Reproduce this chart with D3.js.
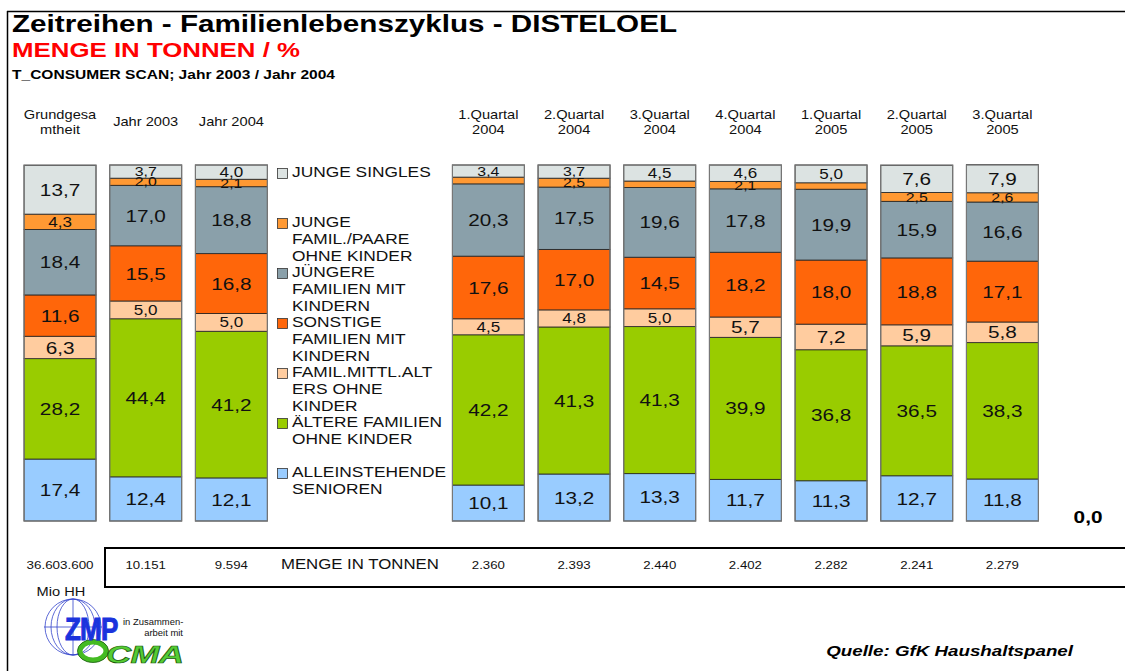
<!DOCTYPE html>
<html>
<head>
<meta charset="utf-8">
<script src="https://cdn.jsdelivr.net/npm/d3@7"></script>
<style>
  body { margin: 0; background: #fff; }
  svg { font-family: "Liberation Sans", Arial, sans-serif; }
</style>
</head>
<body>
<div id="chart"></div>
<script>
// slots of the category axis; empty ones hold the legend, last one is the empty "0,0" column
var categories = ["Grundgesa|mtheit", "Jahr 2003", "Jahr 2004", "", "",
    "1.Quartal|2004", "2.Quartal|2004", "3.Quartal|2004", "4.Quartal|2004",
    "1.Quartal|2005", "2.Quartal|2005", "3.Quartal|2005", ""];

var seriesNames = ["ALLEINSTEHENDE|SENIOREN", "ÄLTERE FAMILIEN|OHNE KINDER",
    "FAMIL.MITTL.ALT|ERS OHNE|KINDER", "SONSTIGE|FAMILIEN MIT|KINDERN",
    "JÜNGERE|FAMILIEN MIT|KINDERN", "JUNGE|FAMIL./PAARE|OHNE KINDER", "JUNGE SINGLES"];
var seriesColors = ["#99ccff", "#99cc00", "#ffcc9f", "#ff660a", "#8aa0aa", "#ff9933", "#dce3e2"];

var alleinstehende = [17.4, 12.4, 12.1, null, null, 10.1, 13.2, 13.3, 11.7, 11.3, 12.7, 11.8, 0];
var aeltere        = [28.2, 44.4, 41.2, null, null, 42.2, 41.3, 41.3, 39.9, 36.8, 36.5, 38.3, 0];
var mittlAlters    = [6.3, 5.0, 5.0, null, null, 4.5, 4.8, 5.0, 5.7, 7.2, 5.9, 5.8, 0];
var sonstige       = [11.6, 15.5, 16.8, null, null, 17.6, 17.0, 14.5, 18.2, 18.0, 18.8, 17.1, 0];
var juengere       = [18.4, 17.0, 18.8, null, null, 20.3, 17.5, 19.6, 17.8, 19.9, 15.9, 16.6, 0];
var jungePaare     = [4.3, 2.0, 2.1, null, null, 1.9, 2.5, 1.8, 2.1, 1.8, 2.5, 2.6, 0];
var jungeSingles   = [13.7, 3.7, 4.0, null, null, 3.4, 3.7, 4.5, 4.6, 5.0, 7.6, 7.9, 0];

var mengeTonnen = ["36.603.600", "10.151", "9.594", "", "", "2.360", "2.393", "2.440",
    "2.402", "2.282", "2.241", "2.279", ""];

var seriesValues = [alleinstehende, aeltere, mittlAlters, sonstige, juengere, jungePaare, jungeSingles];

var W = 1125, H = 671;
var SX = 1.22; // the original export is stretched sideways
var svg = d3.select("#chart").append("svg").attr("width", W).attr("height", H);

// text stretched horizontally like the reference
function wideText(parent, x, y, str, size, sx) {
    return parent.append("text")
        .attr("transform", "translate(" + x + "," + y + ") scale(" + (sx || SX) + ",1)")
        .attr("font-size", size).attr("fill", "#111").text(str);
}

// frame
svg.append("line").attr("x1", 7).attr("x2", 1125).attr("y1", 11.5).attr("y2", 11.5)
    .attr("stroke", "#000").attr("stroke-width", 1.5);
svg.append("line").attr("x1", 7.5).attr("x2", 7.5).attr("y1", 11).attr("y2", H)
    .attr("stroke", "#000").attr("stroke-width", 1.5);

// titles
svg.append("text").attr("x", 12).attr("y", 32).attr("font-size", 24).attr("font-weight", "bold")
    .attr("textLength", 665).attr("lengthAdjust", "spacingAndGlyphs")
    .text("Zeitreihen - Familienlebenszyklus - DISTELOEL");
svg.append("text").attr("x", 12).attr("y", 57).attr("font-size", 20).attr("font-weight", "bold")
    .attr("fill", "#ff0000").attr("textLength", 288).attr("lengthAdjust", "spacingAndGlyphs")
    .text("MENGE IN TONNEN / %");
svg.append("text").attr("x", 12).attr("y", 79).attr("font-size", 12).attr("font-weight", "bold")
    .attr("textLength", 323).attr("lengthAdjust", "spacingAndGlyphs")
    .text("T_CONSUMER SCAN; Jahr 2003 /  Jahr 2004");

var x = d3.scaleBand().domain(d3.range(categories.length))
    .range([17.2, 1130.9]).paddingInner(0.16).paddingOuter(0.08);
var y = d3.scaleLinear().domain([0, 100]).range([521, 165]);
var cx = function (i) { return x(i) + x.bandwidth() / 2; };

// category labels
categories.forEach(function (c, i) {
    if (!c) return;
    var lines = c.split("|");
    lines.forEach(function (l, k) {
        wideText(svg, cx(i), (lines.length > 1 ? 119 : 126) + k * 15, l, 12)
            .attr("text-anchor", "middle");
    });
});

// stack
var rows = categories.map(function (c, i) {
    var r = { idx: i };
    seriesValues.forEach(function (s, k) { r["s" + k] = s[i] == null ? 0 : s[i]; });
    return r;
});
var stack = d3.stack().keys(seriesValues.map(function (s, k) { return "s" + k; }));
var layers = stack(rows);

var fmt = function (v) { return v.toFixed(1).replace(".", ","); };

layers.forEach(function (layer, k) {
    var g = svg.append("g");
    layer.forEach(function (d, i) {
        var v = seriesValues[k][i];
        if (v == null || v === 0) return;
        g.append("rect")
            .attr("x", x(i)).attr("width", x.bandwidth())
            .attr("y", y(d[1])).attr("height", y(d[0]) - y(d[1]))
            .attr("fill", seriesColors[k]).attr("stroke", "#222").attr("stroke-width", 0.8);
    });
});

// bar outlines
categories.forEach(function (c, i) {
    if (seriesValues[0][i] == null || seriesValues[0][i] === 0) return;
    svg.append("rect").attr("x", x(i)).attr("width", x.bandwidth())
        .attr("y", y(100)).attr("height", y(0) - y(100))
        .attr("fill", "none").attr("stroke", "#777").attr("stroke-width", 1.2);
});

// value labels
layers.forEach(function (layer, k) {
    layer.forEach(function (d, i) {
        var v = seriesValues[k][i];
        if (v == null || v < 2) return;
        var h = y(d[0]) - y(d[1]);
        var fs = h >= 20 ? 17 : (h >= 14 ? 14 : 13);
        wideText(svg, cx(i), (y(d[0]) + y(d[1])) / 2 + fs * 0.36, fmt(v), fs)
            .attr("text-anchor", "middle");
    });
});

// empty last column shows 0,0
var lastIdx = categories.length - 1;
wideText(svg, cx(lastIdx), y(0) + 2, fmt(seriesValues[0][lastIdx]), 16, 1.3)
    .attr("text-anchor", "middle").attr("font-weight", "bold").attr("fill", "#000");

// legend (top entry first)
var legend = svg.append("g");
var legendOrder = d3.range(seriesNames.length).reverse();
legendOrder.forEach(function (k, n) {
    var ly = 177 + n * 50;
    legend.append("rect").attr("x", 277.5).attr("y", ly - 8.5).attr("width", 10).attr("height", 10)
        .attr("fill", seriesColors[k]).attr("stroke", "#333").attr("stroke-width", 0.8);
    seriesNames[k].split("|").forEach(function (l, j) {
        wideText(legend, 292, ly + j * 17, l, 14, 1.24);
    });
});

// table of tonnes
svg.append("rect").attr("x", 105).attr("y", 548).attr("width", 1030).attr("height", 39)
    .attr("fill", "none").attr("stroke", "#000").attr("stroke-width", 2);
mengeTonnen.forEach(function (m, i) {
    if (!m) return;
    wideText(svg, cx(i), 569, m, i === 0 ? 11 : 11.5, i === 0 ? 1.22 : 1.15)
        .attr("text-anchor", "middle");
});
wideText(svg, (x(3) + x(4) + x.bandwidth()) / 2, 569, "MENGE IN TONNEN", 14, 1.2)
    .attr("text-anchor", "middle");
wideText(svg, 61, 596, "Mio HH", 12).attr("text-anchor", "middle");

// source
wideText(svg, 1073, 656, "Quelle: GfK Haushaltspanel", 15, 1.25)
    .attr("text-anchor", "end").attr("font-weight", "bold").attr("font-style", "italic")
    .attr("fill", "#000");

// logo ZMP / CMA
var logo = svg.append("g");
[28, 22, 16].forEach(function (r) {
    logo.append("ellipse").attr("cx", 73).attr("cy", 627).attr("rx", r).attr("ry", 28)
        .attr("fill", "none").attr("stroke", "#3344cc").attr("stroke-width", 0.8);
});
logo.append("line").attr("x1", 44).attr("x2", 102).attr("y1", 627).attr("y2", 627)
    .attr("stroke", "#3344cc").attr("stroke-width", 0.8);
logo.append("line").attr("x1", 73).attr("x2", 73).attr("y1", 599).attr("y2", 655)
    .attr("stroke", "#3344cc").attr("stroke-width", 0.8);
logo.append("ellipse").attr("cx", 93).attr("cy", 651).attr("rx", 13).attr("ry", 9)
    .attr("fill", "none").attr("stroke", "#44bb22").attr("stroke-width", 5);
logo.append("ellipse").attr("cx", 93).attr("cy", 651).attr("rx", 15.5).attr("ry", 11.5)
    .attr("fill", "none").attr("stroke", "#1a5a10").attr("stroke-width", 0.8);
wideText(logo, 65, 640, "ZMP", 31, 0.84).attr("font-weight", "900")
    .attr("fill", "#1a33dd").attr("stroke", "#1a33dd").attr("stroke-width", 1)
    .attr("letter-spacing", "-1");
wideText(logo, 123, 625, "in Zusammen-", 9, 1.05);
wideText(logo, 183, 636, "arbeit mit", 9, 1.05).attr("text-anchor", "end");
wideText(logo, 106, 663, "CMA", 24, 1.45).attr("font-weight", "bold")
    .attr("font-style", "italic").attr("fill", "#55cc33").attr("stroke", "#1a5a10")
    .attr("stroke-width", 0.7).attr("letter-spacing", "-0.5");
</script>
</body>
</html>
